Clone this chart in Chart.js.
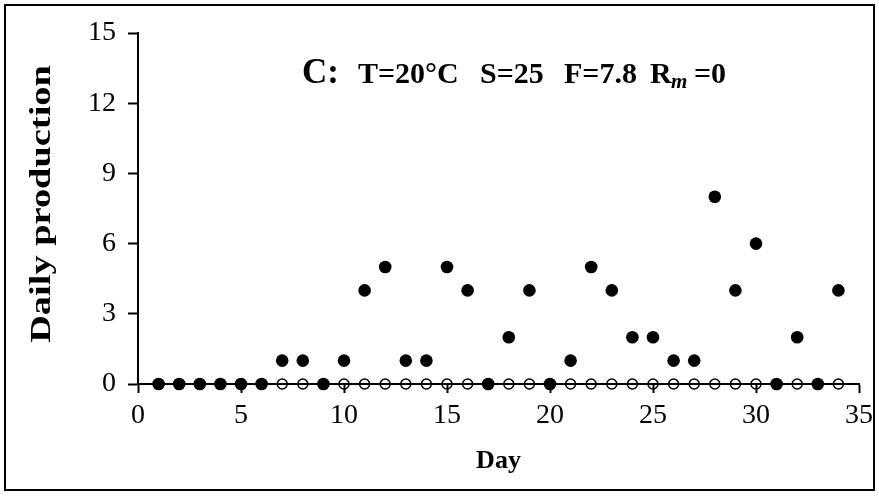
<!DOCTYPE html>
<html lang="en">
<head>
  <meta charset="UTF-8" />
  <title>Daily production</title>
  <script src="https://cdn.jsdelivr.net/npm/chart.js"></script>
  <style>
    html, body { margin: 0; padding: 0; background: #fff; }
    #wrap { width: 879px; height: 496px; position: relative; }
  </style>
</head>
<body>
  <div id="wrap"><canvas id="prodChart" width="879" height="496"></canvas></div>

  <script>
    // days 1..34
    const days = [1,2,3,4,5,6,7,8,9,10,11,12,13,14,15,16,17,18,19,20,21,22,23,24,25,26,27,28,29,30,31,32,33,34];
    // filled dots
    const produced = [0,0,0,0,0,0,1,1,0,1,4,5,1,1,5,4,0,2,4,0,1,5,4,2,2,1,1,8,4,6,0,2,0,4];
    // open dots
    const other = [0,0,0,0,0,0,0,0,0,0,0,0,0,0,0,0,0,0,0,0,0,0,0,0,0,0,0,0,0,0,0,0,0,0];
    const yTicks = [0, 3, 6, 9, 12, 15];
    const xTicks = [0, 5, 10, 15, 20, 25, 30, 35];
    const yTitle = 'Daily production';
    const xTitle = 'Day';

    const serif = "'Liberation Serif', 'Times New Roman', serif";

    // outer frame, y title and the "C: ..." label inside the plot
    const extras = {
      id: 'extras',
      afterDraw(chart) {
        const ctx = chart.ctx;
        ctx.save();
        ctx.strokeStyle = '#000';
        ctx.lineWidth = 2;
        ctx.strokeRect(5, 5, 869, 485);

        ctx.fillStyle = '#000';

        // y title, rotated (stretched along its length like the original)
        ctx.save();
        ctx.translate(42, 204);
        ctx.rotate(-Math.PI / 2);
        ctx.scale(1.28, 1);
        ctx.font = 'bold 30px ' + serif;
        ctx.textAlign = 'center';
        ctx.textBaseline = 'middle';
        ctx.fillText(yTitle, 0, 0);
        ctx.restore();

        // label
        ctx.textBaseline = 'alphabetic';
        const y = 83;
        const part = (txt, x, font, dy) => {
          ctx.font = font;
          ctx.fillText(txt, x, y + (dy || 0));
        };
        const b = 'bold 30px ' + serif;
        part('C:', 302, 'bold 35px ' + serif);
        part('T=20°C', 358, b);
        part('S=25', 480, b);
        part('F=7.8', 564, b);
        part('R', 650, b);
        part('m', 671, 'italic bold 21px ' + serif, 5);
        part('=0', 694, b);

        ctx.restore();
      }
    };

    new Chart(document.getElementById('prodChart'), {
      type: 'scatter',
      data: {
        datasets: [
          {
            label: 'filled',
            data: days.map((d, i) => ({ x: d, y: produced[i] })),
            backgroundColor: '#000',
            borderColor: '#000',
            pointRadius: 6.3,
            borderWidth: 0,
            clip: false
          },
          {
            label: 'open',
            data: days.map((d, i) => ({ x: d, y: other[i] })),
            backgroundColor: 'rgba(0,0,0,0)',
            borderColor: '#000',
            pointRadius: 5,
            borderWidth: 1.5,
            clip: false
          }
        ]
      },
      options: {
        responsive: false,
        animation: false,
        layout: { padding: { top: 33, right: 8, left: 0, bottom: 0 } },
        plugins: {
          legend: { display: false },
          tooltip: { enabled: false }
        },
        scales: {
          x: {
            type: 'linear',
            min: 0,
            max: 35,
            afterBuildTicks: axis => { axis.ticks = xTicks.map(v => ({ value: v })); },
            afterFit: axis => { axis.height = 112; },
            grid: { drawOnChartArea: false, tickLength: 9, tickColor: '#000', tickWidth: 2 },
            border: { color: '#000', width: 2 },
            ticks: { color: '#000', padding: 6, maxRotation: 0, font: { family: serif, size: 28 } },
            title: {
              display: true, text: xTitle, color: '#000',
              padding: { top: 0, bottom: 19 },
              font: { family: serif, size: 26, weight: 'bold' }
            }
          },
          y: {
            min: 0,
            max: 15,
            afterBuildTicks: axis => { axis.ticks = yTicks.map(v => ({ value: v })); },
            afterFit: axis => { axis.width = 138; },
            grid: { drawOnChartArea: false, tickLength: 10, tickColor: '#000', tickWidth: 2 },
            border: { color: '#000', width: 2 },
            ticks: { color: '#000', padding: 12, font: { family: serif, size: 28 } },
            title: { display: false }
          }
        }
      },
      plugins: [extras]
    });
  </script>
</body>
</html>
